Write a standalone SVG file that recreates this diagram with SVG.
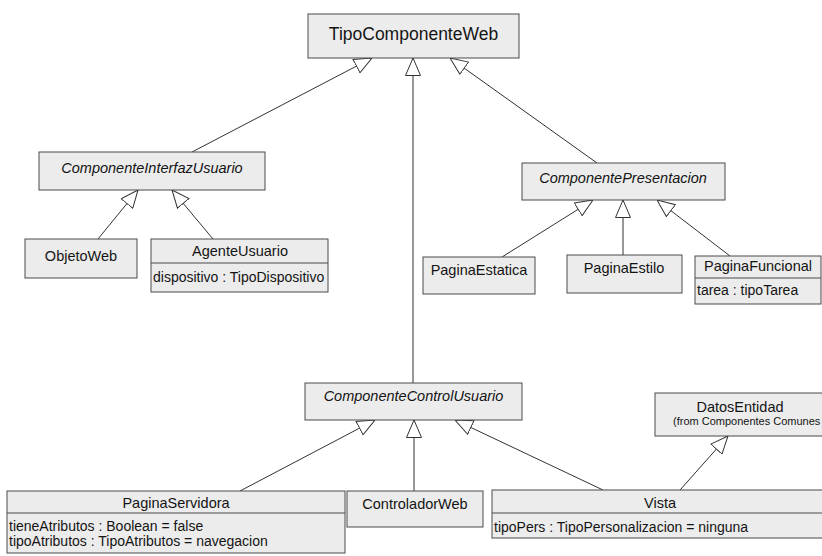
<svg xmlns="http://www.w3.org/2000/svg" width="822" height="556" viewBox="0 0 822 556">
  <style>
    .box { fill: #ececec; stroke: #4a4a4a; stroke-width: 1; }
    .div { stroke: #4a4a4a; stroke-width: 1; }
    text { font-family: "Liberation Sans", Arial, Helvetica, sans-serif; fill: #141414; }
    .name { font-size: 14.5px; text-anchor: middle; }
    .abs { font-style: italic; }
    .big { font-size: 17.5px; }
    .attr { font-size: 14px; text-anchor: start; }
    .from { font-size: 11px; text-anchor: start; }
    .conn line { stroke: #333; stroke-width: 1; fill: none; marker-end: url(#gen); }
  </style>
  <defs>
    <!-- hollow triangle for generalization -->
    <marker id="gen" viewBox="0 0 18 16" refX="18" refY="8" markerWidth="18" markerHeight="16" markerUnits="userSpaceOnUse" orient="auto">
      <path d="M0.5,0.5 L18,8 L0.5,15.5 Z" fill="#ffffff" stroke="#333" stroke-width="1"/>
    </marker>
  </defs>
  <rect width="822" height="556" fill="#ffffff"/>

  <g class="conn">
    <line x1="192" y1="152" x2="372" y2="58"/>
    <line x1="413" y1="383" x2="413" y2="58"/>
    <line x1="597" y1="163" x2="450" y2="58"/>
    <line x1="98" y1="239" x2="138" y2="190"/>
    <line x1="213" y1="239" x2="172" y2="190"/>
    <line x1="502" y1="257" x2="593" y2="200"/>
    <line x1="623" y1="255" x2="623" y2="200"/>
    <line x1="730" y1="256" x2="657" y2="200"/>
    <line x1="240" y1="491" x2="375" y2="420"/>
    <line x1="414" y1="491" x2="414" y2="420"/>
    <line x1="603" y1="490" x2="455" y2="420"/>
    <line x1="680" y1="490" x2="728" y2="436"/>
  </g>

  <g id="TipoComponenteWeb">
    <rect class="box" x="308" y="14" width="211" height="44"/>
    <text class="name big" x="413.5" y="40">TipoComponenteWeb</text>
  </g>

  <g id="ComponenteInterfazUsuario">
    <rect class="box" x="39" y="152" width="226" height="38"/>
    <text class="name abs" x="152" y="173">ComponenteInterfazUsuario</text>
  </g>

  <g id="ObjetoWeb">
    <rect class="box" x="25" y="239" width="112" height="39"/>
    <text class="name" x="81" y="261">ObjetoWeb</text>
  </g>

  <g id="AgenteUsuario">
    <rect class="box" x="151" y="239" width="177" height="53"/>
    <line class="div" x1="151" y1="263" x2="328" y2="263"/>
    <text class="name" x="240" y="256">AgenteUsuario</text>
    <text class="attr" x="153" y="282">dispositivo : TipoDispositivo</text>
  </g>

  <g id="ComponentePresentacion">
    <rect class="box" x="522" y="163" width="203" height="37"/>
    <text class="name abs" x="623" y="183">ComponentePresentacion</text>
  </g>

  <g id="PaginaEstatica">
    <rect class="box" x="423" y="257" width="112" height="37"/>
    <text class="name" x="479" y="275">PaginaEstatica</text>
  </g>

  <g id="PaginaEstilo">
    <rect class="box" x="567" y="255" width="115" height="38"/>
    <text class="name" x="624" y="273">PaginaEstilo</text>
  </g>

  <g id="PaginaFuncional">
    <rect class="box" x="695" y="256" width="126" height="48"/>
    <line class="div" x1="695" y1="278" x2="821" y2="278"/>
    <text class="name" x="758" y="271">PaginaFuncional</text>
    <text class="attr" x="697" y="295">tarea : tipoTarea</text>
  </g>

  <g id="ComponenteControlUsuario">
    <rect class="box" x="305" y="383" width="217" height="37"/>
    <text class="name abs" x="413.5" y="401">ComponenteControlUsuario</text>
  </g>

  <g id="DatosEntidad">
    <rect class="box" x="655" y="393" width="175" height="43"/>
    <text class="name" x="740" y="412">DatosEntidad</text>
    <text class="from" x="673" y="425">(from Componentes Comunes</text>
  </g>

  <g id="PaginaServidora">
    <rect class="box" x="7" y="491" width="338" height="62"/>
    <line class="div" x1="7" y1="513" x2="345" y2="513"/>
    <text class="name" x="176" y="508">PaginaServidora</text>
    <text class="attr" x="9" y="531">tieneAtributos : Boolean = false</text>
    <text class="attr" x="9" y="546">tipoAtributos : TipoAtributos = navegacion</text>
  </g>

  <g id="ControladorWeb">
    <rect class="box" x="347" y="491" width="136" height="36"/>
    <text class="name" x="415" y="509">ControladorWeb</text>
  </g>

  <g id="Vista">
    <rect class="box" x="492" y="490" width="338" height="48"/>
    <line class="div" x1="492" y1="513" x2="830" y2="513"/>
    <text class="name" x="660" y="508">Vista</text>
    <text class="attr" x="494" y="532">tipoPers : TipoPersonalizacion = ninguna</text>
  </g>
</svg>
